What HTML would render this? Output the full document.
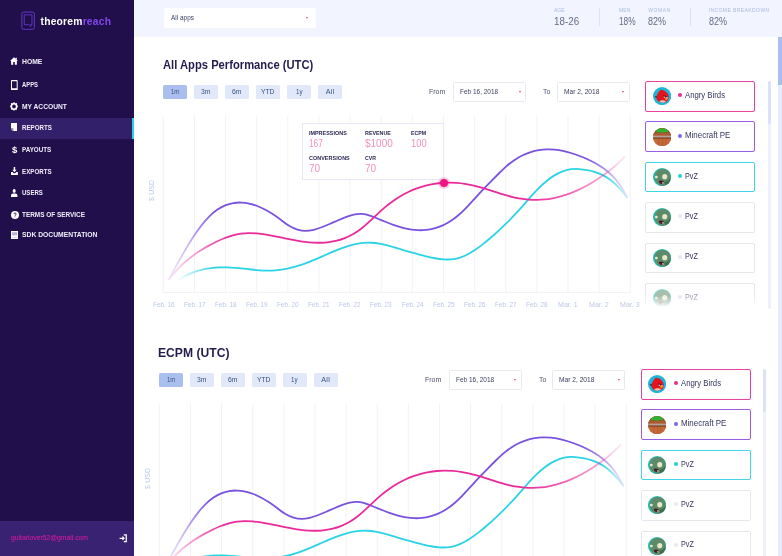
<!DOCTYPE html>
<html lang="en"><head><meta charset="utf-8"><title>TheoremReach Reports</title><style>
html,body{margin:0;padding:0;}
body{width:782px;height:556px;overflow:hidden;background:#fff;position:relative;font-family:"Liberation Sans",sans-serif;}
.abs{position:absolute;}
.t{position:absolute;white-space:pre;line-height:1;}
.sec{position:absolute;left:0;top:0;width:782px;height:556px;}
</style></head><body>
<div class="sec" style="left:0;top:0;"><svg class="abs" style="left:0;top:0" width="782" height="556" viewBox="0 0 782 556"><defs><linearGradient id="gp1" gradientUnits="userSpaceOnUse" x1="169.0" y1="0" x2="628.0" y2="0"><stop offset="0.0000" stop-color="#7a52e0" stop-opacity="0.08"/><stop offset="0.0458" stop-color="#7a52e0" stop-opacity="0.45"/><stop offset="0.0980" stop-color="#7a52e0" stop-opacity="1"/><stop offset="0.9085" stop-color="#7a52e0" stop-opacity="1"/><stop offset="0.9564" stop-color="#7a52e0" stop-opacity="0.55"/><stop offset="0.9978" stop-color="#7a52e0" stop-opacity="0.12"/></linearGradient><linearGradient id="gk1" gradientUnits="userSpaceOnUse" x1="169.0" y1="0" x2="628.0" y2="0"><stop offset="0.0000" stop-color="#ea2a9b" stop-opacity="0.08"/><stop offset="0.0566" stop-color="#ea2a9b" stop-opacity="0.45"/><stop offset="0.1242" stop-color="#ea2a9b" stop-opacity="1"/><stop offset="0.7756" stop-color="#ea2a9b" stop-opacity="1"/><stop offset="0.8627" stop-color="#ea2a9b" stop-opacity="0.75"/><stop offset="0.9390" stop-color="#ea2a9b" stop-opacity="0.45"/><stop offset="0.9935" stop-color="#ea2a9b" stop-opacity="0.1"/></linearGradient><linearGradient id="gc1" gradientUnits="userSpaceOnUse" x1="169.0" y1="0" x2="628.0" y2="0"><stop offset="0.0218" stop-color="#2bd3e6" stop-opacity="0.05"/><stop offset="0.0588" stop-color="#2bd3e6" stop-opacity="0.5"/><stop offset="0.0980" stop-color="#2bd3e6" stop-opacity="1"/><stop offset="0.9477" stop-color="#2bd3e6" stop-opacity="1"/><stop offset="0.9739" stop-color="#2bd3e6" stop-opacity="0.6"/><stop offset="1.0000" stop-color="#2bd3e6" stop-opacity="0.12"/></linearGradient></defs><rect x="162.80" y="115" width="1" height="177.5" fill="#f3f3f7"/><rect x="193.93" y="115" width="1" height="177.5" fill="#f3f3f7"/><rect x="225.06" y="115" width="1" height="177.5" fill="#f3f3f7"/><rect x="256.19" y="115" width="1" height="177.5" fill="#f3f3f7"/><rect x="287.32" y="115" width="1" height="177.5" fill="#f3f3f7"/><rect x="318.45" y="115" width="1" height="177.5" fill="#f3f3f7"/><rect x="349.58" y="115" width="1" height="177.5" fill="#f3f3f7"/><rect x="380.71" y="115" width="1" height="177.5" fill="#f3f3f7"/><rect x="411.84" y="115" width="1" height="177.5" fill="#f3f3f7"/><rect x="442.97" y="115" width="1" height="177.5" fill="#f3f3f7"/><rect x="474.10" y="115" width="1" height="177.5" fill="#f3f3f7"/><rect x="505.23" y="115" width="1" height="177.5" fill="#f3f3f7"/><rect x="536.36" y="115" width="1" height="177.5" fill="#f3f3f7"/><rect x="567.49" y="115" width="1" height="177.5" fill="#f3f3f7"/><rect x="598.62" y="115" width="1" height="177.5" fill="#f3f3f7"/><rect x="629.75" y="115" width="1" height="177.5" fill="#f3f3f7"/><rect x="163" y="292" width="468" height="1" fill="#f3f3f7"/><g fill="none" stroke-width="1.8" stroke-linecap="round"><path d="M179.40,279.20 C182.07,277.54 184.73,276.10 187.40,274.85 C190.06,273.60 192.73,272.53 195.39,271.64 C198.06,270.74 200.72,270.01 203.39,269.43 C206.05,268.85 208.72,268.41 211.39,268.09 C214.05,267.77 216.72,267.57 219.38,267.47 C222.05,267.37 224.71,267.37 227.38,267.45 C230.04,267.52 232.71,267.67 235.38,267.87 C238.04,268.07 240.71,268.32 243.37,268.60 C246.04,268.88 248.70,269.19 251.37,269.50 C254.03,269.80 256.70,270.09 259.36,270.31 C262.03,270.52 264.70,270.66 267.36,270.68 C270.03,270.69 272.69,270.58 275.36,270.35 C278.02,270.13 280.69,269.79 283.35,269.35 C286.02,268.90 288.68,268.35 291.35,267.70 C294.02,267.05 296.68,266.29 299.35,265.45 C302.01,264.60 304.68,263.67 307.34,262.64 C310.01,261.62 312.67,260.53 315.34,259.39 C318.00,258.26 320.67,257.08 323.34,255.91 C326.00,254.73 328.67,253.56 331.33,252.42 C334.00,251.28 336.66,250.18 339.33,249.15 C341.99,248.12 344.66,247.16 347.33,246.32 C349.99,245.48 352.66,244.75 355.32,244.17 C357.99,243.59 360.65,243.15 363.32,242.91 C365.98,242.67 368.65,242.62 371.31,242.77 C373.98,242.92 376.65,243.26 379.31,243.73 C381.98,244.20 384.64,244.80 387.31,245.47 C389.97,246.15 392.64,246.90 395.30,247.67 C397.97,248.45 400.63,249.23 403.30,250.02 C405.97,250.81 408.63,251.59 411.30,252.36 C413.96,253.13 416.63,253.87 419.29,254.58 C421.96,255.29 424.62,255.97 427.29,256.59 C429.95,257.21 432.62,257.78 435.29,258.26 C437.95,258.74 440.62,259.12 443.28,259.32 C445.95,259.53 448.61,259.55 451.28,259.33 C453.94,259.11 456.61,258.64 459.28,257.84 C461.94,257.04 464.61,255.93 467.27,254.57 C469.94,253.20 472.60,251.59 475.27,249.79 C477.93,247.99 480.60,246.00 483.26,243.88 C485.93,241.77 488.60,239.54 491.26,237.24 C493.93,234.94 496.59,232.57 499.26,230.11 C501.92,227.65 504.59,225.10 507.25,222.46 C509.92,219.82 512.58,217.08 515.25,214.23 C517.92,211.39 520.58,208.43 523.25,205.37 C525.91,202.32 528.58,199.21 531.24,196.19 C533.91,193.18 536.57,190.29 539.24,187.65 C541.90,185.01 544.57,182.60 547.24,180.46 C549.90,178.32 552.57,176.44 555.23,174.86 C557.90,173.28 560.56,171.99 563.23,171.03 C565.89,170.08 568.56,169.46 571.23,169.16 C573.89,168.86 576.56,168.85 579.22,169.03 C581.89,169.21 584.55,169.56 587.22,170.04 C589.88,170.52 592.55,171.17 595.21,172.04 C597.88,172.91 600.55,174.01 603.21,175.41 C605.88,176.81 608.54,178.51 611.21,180.58 C613.87,182.65 616.54,185.09 619.20,187.97 C621.87,190.85 624.53,194.17 627.20,198.00" stroke="url(#gc1)"/><path d="M168.90,279.20 C171.58,274.27 174.26,269.34 176.94,264.51 C179.62,259.68 182.30,254.94 184.98,250.38 C187.66,245.81 190.34,241.43 193.02,237.32 C195.70,233.21 198.38,229.37 201.06,225.89 C203.74,222.41 206.42,219.28 209.10,216.60 C211.78,213.92 214.46,211.68 217.14,209.83 C219.82,207.98 222.50,206.52 225.18,205.41 C227.86,204.30 230.54,203.53 233.22,203.07 C235.90,202.61 238.58,202.44 241.26,202.54 C243.94,202.63 246.62,202.98 249.30,203.57 C251.98,204.16 254.66,204.99 257.34,206.03 C260.02,207.06 262.70,208.31 265.38,209.73 C268.06,211.16 270.74,212.78 273.42,214.55 C276.10,216.32 278.78,218.26 281.46,220.31 C284.15,222.35 286.83,224.41 289.51,226.02 C292.19,227.63 294.87,228.86 297.55,229.70 C300.23,230.53 302.91,230.96 305.59,230.96 C308.27,230.95 310.95,230.53 313.63,229.86 C316.31,229.19 318.99,228.28 321.67,227.28 C324.35,226.27 327.03,225.15 329.71,223.99 C332.39,222.83 335.07,221.63 337.75,220.48 C340.43,219.32 343.11,218.20 345.79,217.20 C348.47,216.20 351.15,215.29 353.83,214.65 C356.51,214.01 359.19,213.69 361.87,213.91 C364.55,214.13 367.23,214.81 369.91,215.70 C372.59,216.59 375.27,217.66 377.95,218.74 C380.63,219.81 383.31,220.93 385.99,222.01 C388.67,223.09 391.35,224.14 394.03,225.09 C396.71,226.05 399.39,226.90 402.07,227.63 C404.75,228.35 407.43,228.94 410.11,229.37 C412.79,229.81 415.47,230.09 418.15,230.19 C420.83,230.29 423.51,230.21 426.19,229.93 C428.87,229.65 431.55,229.16 434.23,228.45 C436.91,227.74 439.59,226.80 442.27,225.61 C444.95,224.42 447.63,222.97 450.31,221.26 C452.99,219.54 455.67,217.55 458.35,215.25 C461.03,212.96 463.71,210.36 466.39,207.59 C469.07,204.83 471.75,201.89 474.43,198.93 C477.11,195.96 479.79,192.97 482.47,190.09 C485.15,187.20 487.83,184.47 490.51,181.79 C493.19,179.11 495.87,176.43 498.55,173.74 C501.23,171.04 503.91,168.40 506.59,166.07 C509.27,163.73 511.95,161.68 514.64,159.88 C517.32,158.08 520.00,156.55 522.68,155.24 C525.36,153.94 528.04,152.88 530.72,152.03 C533.40,151.18 536.08,150.55 538.76,150.12 C541.44,149.68 544.12,149.44 546.80,149.38 C549.48,149.32 552.16,149.43 554.84,149.69 C557.52,149.96 560.20,150.38 562.88,150.94 C565.56,151.50 568.24,152.19 570.92,152.99 C573.60,153.79 576.28,154.71 578.96,155.72 C581.64,156.73 584.32,157.83 587.00,159.02 C589.68,160.21 592.36,161.52 595.04,163.01 C597.72,164.50 600.40,166.17 603.08,168.10 C605.76,170.02 608.44,172.18 611.12,174.71 C613.80,177.24 616.48,180.17 619.16,183.81 C621.84,187.46 624.52,191.82 627.20,197.20" stroke="url(#gp1)"/><path d="M168.90,279.20 C171.57,275.75 174.23,272.64 176.90,269.80 C179.56,266.96 182.23,264.39 184.89,262.05 C187.56,259.71 190.22,257.59 192.89,255.65 C195.55,253.71 198.22,251.93 200.89,250.28 C203.55,248.63 206.22,247.09 208.88,245.63 C211.55,244.16 214.21,242.77 216.88,241.48 C219.54,240.19 222.21,239.01 224.88,237.97 C227.54,236.93 230.21,236.04 232.87,235.32 C235.54,234.60 238.20,234.07 240.87,233.73 C243.53,233.38 246.20,233.20 248.86,233.17 C251.53,233.14 254.20,233.24 256.86,233.46 C259.53,233.67 262.19,233.99 264.86,234.39 C267.52,234.79 270.19,235.26 272.85,235.78 C275.52,236.30 278.19,236.85 280.85,237.42 C283.52,237.99 286.18,238.57 288.85,239.12 C291.51,239.68 294.18,240.21 296.84,240.69 C299.51,241.17 302.17,241.59 304.84,241.92 C307.51,242.25 310.17,242.50 312.84,242.64 C315.50,242.78 318.17,242.81 320.83,242.73 C323.50,242.64 326.16,242.43 328.83,242.08 C331.50,241.73 334.16,241.24 336.83,240.59 C339.49,239.93 342.16,239.11 344.82,238.07 C347.49,237.04 350.15,235.80 352.82,234.31 C355.48,232.81 358.15,231.07 360.82,229.05 C363.48,227.02 366.15,224.68 368.81,222.19 C371.48,219.71 374.14,217.09 376.81,214.56 C379.47,212.02 382.14,209.58 384.81,207.35 C387.47,205.12 390.14,203.07 392.80,201.18 C395.47,199.30 398.13,197.58 400.80,196.01 C403.46,194.45 406.13,193.04 408.79,191.78 C411.46,190.51 414.13,189.39 416.79,188.41 C419.46,187.42 422.12,186.57 424.79,185.85 C427.45,185.13 430.12,184.53 432.78,184.06 C435.45,183.59 438.12,183.25 440.78,183.01 C443.45,182.78 446.11,182.67 448.78,182.66 C451.44,182.66 454.11,182.76 456.77,182.97 C459.44,183.17 462.10,183.48 464.77,183.89 C467.44,184.30 470.10,184.80 472.77,185.39 C475.43,185.99 478.10,186.68 480.76,187.43 C483.43,188.18 486.09,188.99 488.76,189.82 C491.43,190.66 494.09,191.52 496.76,192.36 C499.42,193.21 502.09,194.05 504.75,194.83 C507.42,195.62 510.08,196.36 512.75,197.01 C515.41,197.66 518.08,198.23 520.75,198.67 C523.41,199.12 526.08,199.44 528.74,199.65 C531.41,199.85 534.07,199.93 536.74,199.90 C539.40,199.86 542.07,199.71 544.74,199.43 C547.40,199.16 550.07,198.77 552.73,198.27 C555.40,197.77 558.06,197.15 560.73,196.42 C563.39,195.68 566.06,194.84 568.72,193.88 C571.39,192.92 574.06,191.85 576.72,190.68 C579.39,189.50 582.05,188.21 584.72,186.81 C587.38,185.42 590.05,183.91 592.71,182.29 C595.38,180.68 598.05,178.95 600.71,177.11 C603.38,175.27 606.04,173.32 608.71,171.25 C611.37,169.18 614.04,167.00 616.70,164.60 C619.37,162.21 622.03,159.61 624.70,156.70" stroke="url(#gk1)"/></g></svg><span class="t" style="left:163.00px;top:59px;font-size:12.60px;font-weight:700;color:#231c4e;transform:scaleX(0.8896);transform-origin:0 50%;">All Apps Performance (UTC)</span><div style="position:absolute;left:163.00px;top:84.80px;width:24.30px;height:13.80px;background:#aabfee;border-radius:1.5px;"></div><span class="t" style="left:171.05px;top:88px;font-size:7.20px;font-weight:400;color:#3b4f86;transform:scaleX(0.8197);transform-origin:0 50%;">1m</span><div style="position:absolute;left:194.00px;top:84.80px;width:24.30px;height:13.80px;background:#e0e8fa;border-radius:1.5px;"></div><span class="t" style="left:201.40px;top:88px;font-size:7.20px;font-weight:400;color:#3b4f86;transform:scaleX(0.9497);transform-origin:0 50%;">3m</span><div style="position:absolute;left:225.00px;top:84.80px;width:24.30px;height:13.80px;background:#e0e8fa;border-radius:1.5px;"></div><span class="t" style="left:232.40px;top:88px;font-size:7.20px;font-weight:400;color:#3b4f86;transform:scaleX(0.9497);transform-origin:0 50%;">6m</span><div style="position:absolute;left:256.00px;top:84.80px;width:24.30px;height:13.80px;background:#e0e8fa;border-radius:1.5px;"></div><span class="t" style="left:261.40px;top:88px;font-size:7.20px;font-weight:400;color:#3b4f86;transform:scaleX(0.9375);transform-origin:0 50%;">YTD</span><div style="position:absolute;left:287.00px;top:84.80px;width:24.30px;height:13.80px;background:#e0e8fa;border-radius:1.5px;"></div><span class="t" style="left:295.90px;top:88px;font-size:7.20px;font-weight:400;color:#3b4f86;transform:scaleX(0.8547);transform-origin:0 50%;">1y</span><div style="position:absolute;left:318.00px;top:84.80px;width:24.30px;height:13.80px;background:#e0e8fa;border-radius:1.5px;"></div><span class="t" style="left:325.65px;top:88px;font-size:7.20px;font-weight:400;color:#3b4f86;letter-spacing:0.333px;">All</span><span class="t" style="left:429.00px;top:88px;font-size:7.40px;font-weight:400;color:#50536f;transform:scaleX(0.9441);transform-origin:0 50%;">From</span><span class="t" style="left:543.00px;top:88px;font-size:7.40px;font-weight:400;color:#50536f;transform:scaleX(0.9468);transform-origin:0 50%;">To</span><div style="position:absolute;left:453.20px;top:82.40px;width:73.00px;height:19.20px;background:#fff;border:1px solid #e7e9f3;border-radius:1.5px;box-sizing:border-box;"></div><span class="t" style="left:460.20px;top:88px;font-size:7.40px;font-weight:400;color:#3d4062;transform:scaleX(0.8759);transform-origin:0 50%;">Feb 16, 2018</span><div class="abs" style="left:518.80px;top:91.0px;width:0;height:0;border-left:1.7px solid transparent;border-right:1.7px solid transparent;border-top:2.3px solid #dc4a84;"></div><div style="position:absolute;left:556.60px;top:82.40px;width:73.00px;height:19.20px;background:#fff;border:1px solid #e7e9f3;border-radius:1.5px;box-sizing:border-box;"></div><span class="t" style="left:563.60px;top:88px;font-size:7.40px;font-weight:400;color:#3d4062;transform:scaleX(0.8989);transform-origin:0 50%;">Mar 2, 2018</span><div class="abs" style="left:622.20px;top:91.0px;width:0;height:0;border-left:1.7px solid transparent;border-right:1.7px solid transparent;border-top:2.3px solid #dc4a84;"></div><div class="abs" style="left:152.60px;top:190.50px;width:0;height:0;"><span class="t" style="left:-10.5px;top:-3.6px;width:21px;font-size:6.8px;color:#b7c6ea;letter-spacing:0.2px;transform:rotate(-90deg);transform-origin:50% 50%;display:block;text-align:center;">$ USD</span></div><span class="t" style="left:152.50px;top:301px;font-size:7.50px;font-weight:400;color:#bcc8e8;transform:scaleX(0.8492);transform-origin:0 50%;">Feb. 16</span><span class="t" style="left:183.63px;top:301px;font-size:7.50px;font-weight:400;color:#bcc8e8;transform:scaleX(0.8492);transform-origin:0 50%;">Feb. 17</span><span class="t" style="left:214.76px;top:301px;font-size:7.50px;font-weight:400;color:#bcc8e8;transform:scaleX(0.8492);transform-origin:0 50%;">Feb. 18</span><span class="t" style="left:245.89px;top:301px;font-size:7.50px;font-weight:400;color:#bcc8e8;transform:scaleX(0.8492);transform-origin:0 50%;">Feb. 19</span><span class="t" style="left:277.02px;top:301px;font-size:7.50px;font-weight:400;color:#bcc8e8;transform:scaleX(0.8492);transform-origin:0 50%;">Feb. 20</span><span class="t" style="left:308.15px;top:301px;font-size:7.50px;font-weight:400;color:#bcc8e8;transform:scaleX(0.8492);transform-origin:0 50%;">Feb. 21</span><span class="t" style="left:339.28px;top:301px;font-size:7.50px;font-weight:400;color:#bcc8e8;transform:scaleX(0.8492);transform-origin:0 50%;">Feb. 22</span><span class="t" style="left:370.41px;top:301px;font-size:7.50px;font-weight:400;color:#bcc8e8;transform:scaleX(0.8492);transform-origin:0 50%;">Feb. 23</span><span class="t" style="left:401.54px;top:301px;font-size:7.50px;font-weight:400;color:#bcc8e8;transform:scaleX(0.8492);transform-origin:0 50%;">Feb. 24</span><span class="t" style="left:432.67px;top:301px;font-size:7.50px;font-weight:400;color:#bcc8e8;transform:scaleX(0.8492);transform-origin:0 50%;">Feb. 25</span><span class="t" style="left:463.80px;top:301px;font-size:7.50px;font-weight:400;color:#bcc8e8;transform:scaleX(0.8492);transform-origin:0 50%;">Feb. 26</span><span class="t" style="left:494.93px;top:301px;font-size:7.50px;font-weight:400;color:#bcc8e8;transform:scaleX(0.8492);transform-origin:0 50%;">Feb. 27</span><span class="t" style="left:526.06px;top:301px;font-size:7.50px;font-weight:400;color:#bcc8e8;transform:scaleX(0.8492);transform-origin:0 50%;">Feb. 28</span><span class="t" style="left:558.19px;top:301px;font-size:7.50px;font-weight:400;color:#bcc8e8;transform:scaleX(0.9404);transform-origin:0 50%;">Mar. 1</span><span class="t" style="left:589.32px;top:301px;font-size:7.50px;font-weight:400;color:#bcc8e8;transform:scaleX(0.9404);transform-origin:0 50%;">Mar. 2</span><span class="t" style="left:620.45px;top:301px;font-size:7.50px;font-weight:400;color:#bcc8e8;transform:scaleX(0.9404);transform-origin:0 50%;">Mar. 3</span><div style="position:absolute;left:302.40px;top:122.60px;width:141.20px;height:57.80px;background:#fff;border:1px solid #e6e8f3;box-sizing:border-box;"></div><span class="t" style="left:308.90px;top:131px;font-size:5.40px;font-weight:700;color:#2a2852;letter-spacing:0.045px;">IMPRESSIONS</span><span class="t" style="left:308.90px;top:139px;font-size:10.40px;font-weight:400;color:#f291bd;transform:scaleX(0.7952);transform-origin:0 50%;">167</span><span class="t" style="left:364.60px;top:131px;font-size:5.40px;font-weight:700;color:#2a2852;transform:scaleX(0.9959);transform-origin:0 50%;">REVENUE</span><span class="t" style="left:364.60px;top:139px;font-size:10.40px;font-weight:400;color:#f291bd;transform:scaleX(0.9613);transform-origin:0 50%;">$1000</span><span class="t" style="left:410.80px;top:131px;font-size:5.40px;font-weight:700;color:#2a2852;transform:scaleX(0.9743);transform-origin:0 50%;">ECPM</span><span class="t" style="left:410.80px;top:139px;font-size:10.40px;font-weight:400;color:#f291bd;transform:scaleX(0.8990);transform-origin:0 50%;">100</span><span class="t" style="left:308.90px;top:156px;font-size:5.40px;font-weight:700;color:#2a2852;letter-spacing:0.099px;">CONVERSIONS</span><span class="t" style="left:308.90px;top:164px;font-size:10.40px;font-weight:400;color:#f291bd;transform:scaleX(0.9681);transform-origin:0 50%;">70</span><span class="t" style="left:364.60px;top:156px;font-size:5.40px;font-weight:700;color:#2a2852;transform:scaleX(0.9648);transform-origin:0 50%;">CVR</span><span class="t" style="left:364.60px;top:164px;font-size:10.40px;font-weight:400;color:#f291bd;transform:scaleX(0.9681);transform-origin:0 50%;">70</span><div class="abs" style="left:438.00px;top:176.90px;width:12px;height:12px;border-radius:50%;background:rgba(242,20,130,0.2);"></div><div class="abs" style="left:440.00px;top:178.90px;width:8px;height:8px;border-radius:50%;background:#f0147f;"></div><div style="position:absolute;left:645.00px;top:81.10px;width:110.00px;height:30.60px;background:#fff;border:1.4px solid #e9409f;border-radius:2px;box-sizing:border-box;"></div><svg class="abs" style="left:652.70px;top:87.40px;opacity:1" width="18.20" height="18.20" viewBox="0 0 20 20"><defs><clipPath id="cab965_1"><circle cx="10" cy="10" r="10"/></clipPath></defs><g clip-path="url(#cab965_1)"><rect width="20" height="20" fill="#22b3d9"/><path d="M1.6 10.6 l2.6 -0.6 v2.4z" fill="#1b1b2a"/><path d="M8.6 3.1 C12.5 3 17.3 6.6 17.3 11.4 C17.3 15.3 14.4 17.2 10.6 17.2 C6.6 17.2 3.9 15.2 3.9 11.6 C3.9 8.2 6 5.6 8.6 3.1z" fill="#e3141f"/><path d="M6.8 15.6 Q10.5 13.6 14.4 15.6 Q12.6 17.3 10.6 17.2 Q8.4 17.3 6.8 15.6z" fill="#f0c9b2"/><path d="M13.4 11.8 L17.4 12.6 L13.8 14.8z" fill="#eba233"/><circle cx="15.5" cy="10.9" r="1.0" fill="#fff"/><circle cx="12.6" cy="11.0" r="0.9" fill="#fff"/><path d="M11.2 9.3 L16.8 10.4 L16.6 11.2 L11 10.3z" fill="#3a0d10"/></g></svg><div class="abs" style="left:678.00px;top:93.30px;width:4px;height:4px;border-radius:50%;background:#ea2a9b;"></div><span class="t" style="left:685.00px;top:90px;font-size:9.50px;font-weight:400;color:#34355f;transform:scaleX(0.8146);transform-origin:0 50%;">Angry Birds</span><div style="position:absolute;left:645.00px;top:121.45px;width:110.00px;height:30.60px;background:#fff;border:1.4px solid #9a5de0;border-radius:2px;box-sizing:border-box;"></div><svg class="abs" style="left:652.70px;top:127.75px;opacity:1" width="18.20" height="18.20" viewBox="0 0 20 20"><defs><clipPath id="cmc1368_1"><circle cx="10" cy="10" r="10"/></clipPath></defs><g clip-path="url(#cmc1368_1)"><rect width="20" height="20" fill="#b5582c"/><rect y="0" width="20" height="5.2" fill="#7d3f1d"/><path d="M2.8 5 Q3.6 0 10 0 Q16.4 0 17 5 Q13 4.2 10 5.2 Q6 4.4 2.800 5z" fill="#2eb430"/><rect y="5.200" width="20" height="3.300" fill="#ad5a30"/><rect y="8.400" width="20" height="2.300" fill="#b3a197"/><rect y="10.600" width="20" height="1.100" fill="#5c2c14"/><rect y="11.700" width="20" height="8.300" fill="#c66a3b"/><path d="M6.500 12v7 M10.500 12v8 M14 12v7" stroke="#a9522a" stroke-width="0.700" fill="none"/></g></svg><div class="abs" style="left:678.00px;top:133.65px;width:4px;height:4px;border-radius:50%;background:#7b67ea;"></div><span class="t" style="left:685.00px;top:130px;font-size:9.50px;font-weight:400;color:#34355f;transform:scaleX(0.8349);transform-origin:0 50%;">Minecraft PE</span><div style="position:absolute;left:645.00px;top:161.80px;width:110.00px;height:30.60px;background:#fff;border:1.4px solid #3fd6e6;border-radius:2px;box-sizing:border-box;"></div><svg class="abs" style="left:652.70px;top:168.10px;opacity:1" width="18.20" height="18.20" viewBox="0 0 20 20"><defs><clipPath id="cpvz1772_1"><circle cx="10" cy="10" r="10"/></clipPath></defs><g clip-path="url(#cpvz1772_1)"><rect width="20" height="20" fill="#25b8ae"/><path d="M2 9 Q2.500 1.200 10.500 1 Q19 1.200 19.300 9.500 Q19.500 17 14 19 Q9 20.500 5 17 Q1.800 14 2 9z" fill="#5f8a69"/><path d="M12 15 Q17 15 19 11 Q19.500 17 14 19z" fill="#3f6f4f"/><circle cx="12.900" cy="9.500" r="2.800" fill="#e6e8c6"/><circle cx="3.700" cy="10" r="1.600" fill="#e6e8c6"/><path d="M6.200 14.200 Q9 13 11.800 14.600 Q11.600 17.600 9 17.600 Q6.600 17.400 6.200 14.200z" fill="#4a1a24"/><rect x="10.200" y="15.600" width="1.300" height="1.400" fill="#f3efe2"/></g></svg><div class="abs" style="left:678.00px;top:174.00px;width:4px;height:4px;border-radius:50%;background:#22cfe0;"></div><span class="t" style="left:685.00px;top:171px;font-size:9.50px;font-weight:400;color:#34355f;transform:scaleX(0.7578);transform-origin:0 50%;">PvZ</span><div style="position:absolute;left:645.00px;top:202.15px;width:110.00px;height:30.60px;background:#fff;border:1px solid #e5e7ef;border-radius:2px;box-sizing:border-box;"></div><svg class="abs" style="left:652.70px;top:208.45px;opacity:1" width="18.20" height="18.20" viewBox="0 0 20 20"><defs><clipPath id="cpvz2175_1"><circle cx="10" cy="10" r="10"/></clipPath></defs><g clip-path="url(#cpvz2175_1)"><rect width="20" height="20" fill="#25b8ae"/><path d="M2 9 Q2.500 1.200 10.500 1 Q19 1.200 19.300 9.500 Q19.500 17 14 19 Q9 20.500 5 17 Q1.800 14 2 9z" fill="#5f8a69"/><path d="M12 15 Q17 15 19 11 Q19.500 17 14 19z" fill="#3f6f4f"/><circle cx="12.900" cy="9.500" r="2.800" fill="#e6e8c6"/><circle cx="3.700" cy="10" r="1.600" fill="#e6e8c6"/><path d="M6.200 14.200 Q9 13 11.800 14.600 Q11.600 17.600 9 17.600 Q6.600 17.400 6.200 14.200z" fill="#4a1a24"/><rect x="10.200" y="15.600" width="1.300" height="1.400" fill="#f3efe2"/></g></svg><div class="abs" style="left:678.00px;top:214.35px;width:4px;height:4px;border-radius:50%;background:#e8e8ef;"></div><span class="t" style="left:685.00px;top:211px;font-size:9.50px;font-weight:400;color:#34355f;transform:scaleX(0.7578);transform-origin:0 50%;">PvZ</span><div style="position:absolute;left:645.00px;top:242.50px;width:110.00px;height:30.60px;background:#fff;border:1px solid #e5e7ef;border-radius:2px;box-sizing:border-box;"></div><svg class="abs" style="left:652.70px;top:248.80px;opacity:1" width="18.20" height="18.20" viewBox="0 0 20 20"><defs><clipPath id="cpvz2579_1"><circle cx="10" cy="10" r="10"/></clipPath></defs><g clip-path="url(#cpvz2579_1)"><rect width="20" height="20" fill="#25b8ae"/><path d="M2 9 Q2.500 1.200 10.500 1 Q19 1.200 19.300 9.500 Q19.500 17 14 19 Q9 20.500 5 17 Q1.800 14 2 9z" fill="#5f8a69"/><path d="M12 15 Q17 15 19 11 Q19.500 17 14 19z" fill="#3f6f4f"/><circle cx="12.900" cy="9.500" r="2.800" fill="#e6e8c6"/><circle cx="3.700" cy="10" r="1.600" fill="#e6e8c6"/><path d="M6.200 14.200 Q9 13 11.800 14.600 Q11.600 17.600 9 17.600 Q6.600 17.400 6.200 14.200z" fill="#4a1a24"/><rect x="10.200" y="15.600" width="1.300" height="1.400" fill="#f3efe2"/></g></svg><div class="abs" style="left:678.00px;top:254.70px;width:4px;height:4px;border-radius:50%;background:#e8e8ef;"></div><span class="t" style="left:685.00px;top:251px;font-size:9.50px;font-weight:400;color:#34355f;transform:scaleX(0.7578);transform-origin:0 50%;">PvZ</span><div style="position:absolute;left:645.00px;top:282.85px;width:110.00px;height:30.60px;background:#fff;border:1px solid #e5e7ef;border-radius:2px;box-sizing:border-box;"></div><svg class="abs" style="left:652.70px;top:289.15px;opacity:0.55" width="18.20" height="18.20" viewBox="0 0 20 20"><defs><clipPath id="cpvz2982_1"><circle cx="10" cy="10" r="10"/></clipPath></defs><g clip-path="url(#cpvz2982_1)"><rect width="20" height="20" fill="#25b8ae"/><path d="M2 9 Q2.500 1.200 10.500 1 Q19 1.200 19.300 9.500 Q19.500 17 14 19 Q9 20.500 5 17 Q1.800 14 2 9z" fill="#5f8a69"/><path d="M12 15 Q17 15 19 11 Q19.500 17 14 19z" fill="#3f6f4f"/><circle cx="12.900" cy="9.500" r="2.800" fill="#e6e8c6"/><circle cx="3.700" cy="10" r="1.600" fill="#e6e8c6"/><path d="M6.200 14.200 Q9 13 11.800 14.600 Q11.600 17.600 9 17.600 Q6.600 17.400 6.200 14.200z" fill="#4a1a24"/><rect x="10.200" y="15.600" width="1.300" height="1.400" fill="#f3efe2"/></g></svg><div class="abs" style="left:678.00px;top:295.05px;width:4px;height:4px;border-radius:50%;background:#e8e8ef;"></div><span class="t" style="left:685.00px;top:292px;font-size:9.50px;font-weight:400;color:#9a9aae;transform:scaleX(0.7578);transform-origin:0 50%;">PvZ</span><div style="position:absolute;left:767.60px;top:80.60px;width:3.10px;height:228.00px;background:#eef1fc;border-radius:1.5px;"></div><div style="position:absolute;left:767.60px;top:80.60px;width:3.10px;height:43.00px;background:#dae2f7;border-radius:1.5px;"></div><div style="position:absolute;left:640.00px;top:296.00px;width:120.00px;height:14.00px;background:linear-gradient(to bottom, rgba(255,255,255,0), #fff 80%);"></div><div style="position:absolute;left:134.00px;top:310.00px;width:648.00px;height:30.00px;background:#fff;"></div></div>
<div class="sec" style="left:-4.5px;top:288px;"><svg class="abs" style="left:0;top:0" width="782" height="556" viewBox="0 0 782 556"><defs><linearGradient id="gp2" gradientUnits="userSpaceOnUse" x1="169.0" y1="0" x2="628.0" y2="0"><stop offset="0.0000" stop-color="#7a52e0" stop-opacity="0.08"/><stop offset="0.0458" stop-color="#7a52e0" stop-opacity="0.45"/><stop offset="0.0980" stop-color="#7a52e0" stop-opacity="1"/><stop offset="0.9085" stop-color="#7a52e0" stop-opacity="1"/><stop offset="0.9564" stop-color="#7a52e0" stop-opacity="0.55"/><stop offset="0.9978" stop-color="#7a52e0" stop-opacity="0.12"/></linearGradient><linearGradient id="gk2" gradientUnits="userSpaceOnUse" x1="169.0" y1="0" x2="628.0" y2="0"><stop offset="0.0000" stop-color="#ea2a9b" stop-opacity="0.08"/><stop offset="0.0566" stop-color="#ea2a9b" stop-opacity="0.45"/><stop offset="0.1242" stop-color="#ea2a9b" stop-opacity="1"/><stop offset="0.7756" stop-color="#ea2a9b" stop-opacity="1"/><stop offset="0.8627" stop-color="#ea2a9b" stop-opacity="0.75"/><stop offset="0.9390" stop-color="#ea2a9b" stop-opacity="0.45"/><stop offset="0.9935" stop-color="#ea2a9b" stop-opacity="0.1"/></linearGradient><linearGradient id="gc2" gradientUnits="userSpaceOnUse" x1="169.0" y1="0" x2="628.0" y2="0"><stop offset="0.0218" stop-color="#2bd3e6" stop-opacity="0.05"/><stop offset="0.0588" stop-color="#2bd3e6" stop-opacity="0.5"/><stop offset="0.0980" stop-color="#2bd3e6" stop-opacity="1"/><stop offset="0.9477" stop-color="#2bd3e6" stop-opacity="1"/><stop offset="0.9739" stop-color="#2bd3e6" stop-opacity="0.6"/><stop offset="1.0000" stop-color="#2bd3e6" stop-opacity="0.12"/></linearGradient></defs><rect x="162.80" y="115" width="1" height="177.5" fill="#f3f3f7"/><rect x="193.93" y="115" width="1" height="177.5" fill="#f3f3f7"/><rect x="225.06" y="115" width="1" height="177.5" fill="#f3f3f7"/><rect x="256.19" y="115" width="1" height="177.5" fill="#f3f3f7"/><rect x="287.32" y="115" width="1" height="177.5" fill="#f3f3f7"/><rect x="318.45" y="115" width="1" height="177.5" fill="#f3f3f7"/><rect x="349.58" y="115" width="1" height="177.5" fill="#f3f3f7"/><rect x="380.71" y="115" width="1" height="177.5" fill="#f3f3f7"/><rect x="411.84" y="115" width="1" height="177.5" fill="#f3f3f7"/><rect x="442.97" y="115" width="1" height="177.5" fill="#f3f3f7"/><rect x="474.10" y="115" width="1" height="177.5" fill="#f3f3f7"/><rect x="505.23" y="115" width="1" height="177.5" fill="#f3f3f7"/><rect x="536.36" y="115" width="1" height="177.5" fill="#f3f3f7"/><rect x="567.49" y="115" width="1" height="177.5" fill="#f3f3f7"/><rect x="598.62" y="115" width="1" height="177.5" fill="#f3f3f7"/><rect x="629.75" y="115" width="1" height="177.5" fill="#f3f3f7"/><rect x="163" y="292" width="468" height="1" fill="#f3f3f7"/><g fill="none" stroke-width="1.8" stroke-linecap="round"><path d="M179.40,279.20 C182.07,277.54 184.73,276.10 187.40,274.85 C190.06,273.60 192.73,272.53 195.39,271.64 C198.06,270.74 200.72,270.01 203.39,269.43 C206.05,268.85 208.72,268.41 211.39,268.09 C214.05,267.77 216.72,267.57 219.38,267.47 C222.05,267.37 224.71,267.37 227.38,267.45 C230.04,267.52 232.71,267.67 235.38,267.87 C238.04,268.07 240.71,268.32 243.37,268.60 C246.04,268.88 248.70,269.19 251.37,269.50 C254.03,269.80 256.70,270.09 259.36,270.31 C262.03,270.52 264.70,270.66 267.36,270.68 C270.03,270.69 272.69,270.58 275.36,270.35 C278.02,270.13 280.69,269.79 283.35,269.35 C286.02,268.90 288.68,268.35 291.35,267.70 C294.02,267.05 296.68,266.29 299.35,265.45 C302.01,264.60 304.68,263.67 307.34,262.64 C310.01,261.62 312.67,260.53 315.34,259.39 C318.00,258.26 320.67,257.08 323.34,255.91 C326.00,254.73 328.67,253.56 331.33,252.42 C334.00,251.28 336.66,250.18 339.33,249.15 C341.99,248.12 344.66,247.16 347.33,246.32 C349.99,245.48 352.66,244.75 355.32,244.17 C357.99,243.59 360.65,243.15 363.32,242.91 C365.98,242.67 368.65,242.62 371.31,242.77 C373.98,242.92 376.65,243.26 379.31,243.73 C381.98,244.20 384.64,244.80 387.31,245.47 C389.97,246.15 392.64,246.90 395.30,247.67 C397.97,248.45 400.63,249.23 403.30,250.02 C405.97,250.81 408.63,251.59 411.30,252.36 C413.96,253.13 416.63,253.87 419.29,254.58 C421.96,255.29 424.62,255.97 427.29,256.59 C429.95,257.21 432.62,257.78 435.29,258.26 C437.95,258.74 440.62,259.12 443.28,259.32 C445.95,259.53 448.61,259.55 451.28,259.33 C453.94,259.11 456.61,258.64 459.28,257.84 C461.94,257.04 464.61,255.93 467.27,254.57 C469.94,253.20 472.60,251.59 475.27,249.79 C477.93,247.99 480.60,246.00 483.26,243.88 C485.93,241.77 488.60,239.54 491.26,237.24 C493.93,234.94 496.59,232.57 499.26,230.11 C501.92,227.65 504.59,225.10 507.25,222.46 C509.92,219.82 512.58,217.08 515.25,214.23 C517.92,211.39 520.58,208.43 523.25,205.37 C525.91,202.32 528.58,199.21 531.24,196.19 C533.91,193.18 536.57,190.29 539.24,187.65 C541.90,185.01 544.57,182.60 547.24,180.46 C549.90,178.32 552.57,176.44 555.23,174.86 C557.90,173.28 560.56,171.99 563.23,171.03 C565.89,170.08 568.56,169.46 571.23,169.16 C573.89,168.86 576.56,168.85 579.22,169.03 C581.89,169.21 584.55,169.56 587.22,170.04 C589.88,170.52 592.55,171.17 595.21,172.04 C597.88,172.91 600.55,174.01 603.21,175.41 C605.88,176.81 608.54,178.51 611.21,180.58 C613.87,182.65 616.54,185.09 619.20,187.97 C621.87,190.85 624.53,194.17 627.20,198.00" stroke="url(#gc2)"/><path d="M168.90,279.20 C171.58,274.27 174.26,269.34 176.94,264.51 C179.62,259.68 182.30,254.94 184.98,250.38 C187.66,245.81 190.34,241.43 193.02,237.32 C195.70,233.21 198.38,229.37 201.06,225.89 C203.74,222.41 206.42,219.28 209.10,216.60 C211.78,213.92 214.46,211.68 217.14,209.83 C219.82,207.98 222.50,206.52 225.18,205.41 C227.86,204.30 230.54,203.53 233.22,203.07 C235.90,202.61 238.58,202.44 241.26,202.54 C243.94,202.63 246.62,202.98 249.30,203.57 C251.98,204.16 254.66,204.99 257.34,206.03 C260.02,207.06 262.70,208.31 265.38,209.73 C268.06,211.16 270.74,212.78 273.42,214.55 C276.10,216.32 278.78,218.26 281.46,220.31 C284.15,222.35 286.83,224.41 289.51,226.02 C292.19,227.63 294.87,228.86 297.55,229.70 C300.23,230.53 302.91,230.96 305.59,230.96 C308.27,230.95 310.95,230.53 313.63,229.86 C316.31,229.19 318.99,228.28 321.67,227.28 C324.35,226.27 327.03,225.15 329.71,223.99 C332.39,222.83 335.07,221.63 337.75,220.48 C340.43,219.32 343.11,218.20 345.79,217.20 C348.47,216.20 351.15,215.29 353.83,214.65 C356.51,214.01 359.19,213.69 361.87,213.91 C364.55,214.13 367.23,214.81 369.91,215.70 C372.59,216.59 375.27,217.66 377.95,218.74 C380.63,219.81 383.31,220.93 385.99,222.01 C388.67,223.09 391.35,224.14 394.03,225.09 C396.71,226.05 399.39,226.90 402.07,227.63 C404.75,228.35 407.43,228.94 410.11,229.37 C412.79,229.81 415.47,230.09 418.15,230.19 C420.83,230.29 423.51,230.21 426.19,229.93 C428.87,229.65 431.55,229.16 434.23,228.45 C436.91,227.74 439.59,226.80 442.27,225.61 C444.95,224.42 447.63,222.97 450.31,221.26 C452.99,219.54 455.67,217.55 458.35,215.25 C461.03,212.96 463.71,210.36 466.39,207.59 C469.07,204.83 471.75,201.89 474.43,198.93 C477.11,195.96 479.79,192.97 482.47,190.09 C485.15,187.20 487.83,184.47 490.51,181.79 C493.19,179.11 495.87,176.43 498.55,173.74 C501.23,171.04 503.91,168.40 506.59,166.07 C509.27,163.73 511.95,161.68 514.64,159.88 C517.32,158.08 520.00,156.55 522.68,155.24 C525.36,153.94 528.04,152.88 530.72,152.03 C533.40,151.18 536.08,150.55 538.76,150.12 C541.44,149.68 544.12,149.44 546.80,149.38 C549.48,149.32 552.16,149.43 554.84,149.69 C557.52,149.96 560.20,150.38 562.88,150.94 C565.56,151.50 568.24,152.19 570.92,152.99 C573.60,153.79 576.28,154.71 578.96,155.72 C581.64,156.73 584.32,157.83 587.00,159.02 C589.68,160.21 592.36,161.52 595.04,163.01 C597.72,164.50 600.40,166.17 603.08,168.10 C605.76,170.02 608.44,172.18 611.12,174.71 C613.80,177.24 616.48,180.17 619.16,183.81 C621.84,187.46 624.52,191.82 627.20,197.20" stroke="url(#gp2)"/><path d="M168.90,279.20 C171.57,275.75 174.23,272.64 176.90,269.80 C179.56,266.96 182.23,264.39 184.89,262.05 C187.56,259.71 190.22,257.59 192.89,255.65 C195.55,253.71 198.22,251.93 200.89,250.28 C203.55,248.63 206.22,247.09 208.88,245.63 C211.55,244.16 214.21,242.77 216.88,241.48 C219.54,240.19 222.21,239.01 224.88,237.97 C227.54,236.93 230.21,236.04 232.87,235.32 C235.54,234.60 238.20,234.07 240.87,233.73 C243.53,233.38 246.20,233.20 248.86,233.17 C251.53,233.14 254.20,233.24 256.86,233.46 C259.53,233.67 262.19,233.99 264.86,234.39 C267.52,234.79 270.19,235.26 272.85,235.78 C275.52,236.30 278.19,236.85 280.85,237.42 C283.52,237.99 286.18,238.57 288.85,239.12 C291.51,239.68 294.18,240.21 296.84,240.69 C299.51,241.17 302.17,241.59 304.84,241.92 C307.51,242.25 310.17,242.50 312.84,242.64 C315.50,242.78 318.17,242.81 320.83,242.73 C323.50,242.64 326.16,242.43 328.83,242.08 C331.50,241.73 334.16,241.24 336.83,240.59 C339.49,239.93 342.16,239.11 344.82,238.07 C347.49,237.04 350.15,235.80 352.82,234.31 C355.48,232.81 358.15,231.07 360.82,229.05 C363.48,227.02 366.15,224.68 368.81,222.19 C371.48,219.71 374.14,217.09 376.81,214.56 C379.47,212.02 382.14,209.58 384.81,207.35 C387.47,205.12 390.14,203.07 392.80,201.18 C395.47,199.30 398.13,197.58 400.80,196.01 C403.46,194.45 406.13,193.04 408.79,191.78 C411.46,190.51 414.13,189.39 416.79,188.41 C419.46,187.42 422.12,186.57 424.79,185.85 C427.45,185.13 430.12,184.53 432.78,184.06 C435.45,183.59 438.12,183.25 440.78,183.01 C443.45,182.78 446.11,182.67 448.78,182.66 C451.44,182.66 454.11,182.76 456.77,182.97 C459.44,183.17 462.10,183.48 464.77,183.89 C467.44,184.30 470.10,184.80 472.77,185.39 C475.43,185.99 478.10,186.68 480.76,187.43 C483.43,188.18 486.09,188.99 488.76,189.82 C491.43,190.66 494.09,191.52 496.76,192.36 C499.42,193.21 502.09,194.05 504.75,194.83 C507.42,195.62 510.08,196.36 512.75,197.01 C515.41,197.66 518.08,198.23 520.75,198.67 C523.41,199.12 526.08,199.44 528.74,199.65 C531.41,199.85 534.07,199.93 536.74,199.90 C539.40,199.86 542.07,199.71 544.74,199.43 C547.40,199.16 550.07,198.77 552.73,198.27 C555.40,197.77 558.06,197.15 560.73,196.42 C563.39,195.68 566.06,194.84 568.72,193.88 C571.39,192.92 574.06,191.85 576.72,190.68 C579.39,189.50 582.05,188.21 584.72,186.81 C587.38,185.42 590.05,183.91 592.71,182.29 C595.38,180.68 598.05,178.95 600.71,177.11 C603.38,175.27 606.04,173.32 608.71,171.25 C611.37,169.18 614.04,167.00 616.70,164.60 C619.37,162.21 622.03,159.61 624.70,156.70" stroke="url(#gk2)"/></g></svg><span class="t" style="left:162.40px;top:59px;font-size:12.60px;font-weight:700;color:#231c4e;transform:scaleX(0.9637);transform-origin:0 50%;">ECPM (UTC)</span><div style="position:absolute;left:163.00px;top:84.80px;width:24.30px;height:13.80px;background:#aabfee;border-radius:1.5px;"></div><span class="t" style="left:171.05px;top:88px;font-size:7.20px;font-weight:400;color:#3b4f86;transform:scaleX(0.8197);transform-origin:0 50%;">1m</span><div style="position:absolute;left:194.00px;top:84.80px;width:24.30px;height:13.80px;background:#e0e8fa;border-radius:1.5px;"></div><span class="t" style="left:201.40px;top:88px;font-size:7.20px;font-weight:400;color:#3b4f86;transform:scaleX(0.9497);transform-origin:0 50%;">3m</span><div style="position:absolute;left:225.00px;top:84.80px;width:24.30px;height:13.80px;background:#e0e8fa;border-radius:1.5px;"></div><span class="t" style="left:232.40px;top:88px;font-size:7.20px;font-weight:400;color:#3b4f86;transform:scaleX(0.9497);transform-origin:0 50%;">6m</span><div style="position:absolute;left:256.00px;top:84.80px;width:24.30px;height:13.80px;background:#e0e8fa;border-radius:1.5px;"></div><span class="t" style="left:261.40px;top:88px;font-size:7.20px;font-weight:400;color:#3b4f86;transform:scaleX(0.9375);transform-origin:0 50%;">YTD</span><div style="position:absolute;left:287.00px;top:84.80px;width:24.30px;height:13.80px;background:#e0e8fa;border-radius:1.5px;"></div><span class="t" style="left:295.90px;top:88px;font-size:7.20px;font-weight:400;color:#3b4f86;transform:scaleX(0.8547);transform-origin:0 50%;">1y</span><div style="position:absolute;left:318.00px;top:84.80px;width:24.30px;height:13.80px;background:#e0e8fa;border-radius:1.5px;"></div><span class="t" style="left:325.65px;top:88px;font-size:7.20px;font-weight:400;color:#3b4f86;letter-spacing:0.333px;">All</span><span class="t" style="left:429.00px;top:88px;font-size:7.40px;font-weight:400;color:#50536f;transform:scaleX(0.9441);transform-origin:0 50%;">From</span><span class="t" style="left:543.00px;top:88px;font-size:7.40px;font-weight:400;color:#50536f;transform:scaleX(0.9468);transform-origin:0 50%;">To</span><div style="position:absolute;left:453.20px;top:82.40px;width:73.00px;height:19.20px;background:#fff;border:1px solid #e7e9f3;border-radius:1.5px;box-sizing:border-box;"></div><span class="t" style="left:460.20px;top:88px;font-size:7.40px;font-weight:400;color:#3d4062;transform:scaleX(0.8759);transform-origin:0 50%;">Feb 16, 2018</span><div class="abs" style="left:518.80px;top:91.0px;width:0;height:0;border-left:1.7px solid transparent;border-right:1.7px solid transparent;border-top:2.3px solid #dc4a84;"></div><div style="position:absolute;left:556.60px;top:82.40px;width:73.00px;height:19.20px;background:#fff;border:1px solid #e7e9f3;border-radius:1.5px;box-sizing:border-box;"></div><span class="t" style="left:563.60px;top:88px;font-size:7.40px;font-weight:400;color:#3d4062;transform:scaleX(0.8989);transform-origin:0 50%;">Mar 2, 2018</span><div class="abs" style="left:622.20px;top:91.0px;width:0;height:0;border-left:1.7px solid transparent;border-right:1.7px solid transparent;border-top:2.3px solid #dc4a84;"></div><div class="abs" style="left:152.60px;top:190.50px;width:0;height:0;"><span class="t" style="left:-10.5px;top:-3.6px;width:21px;font-size:6.8px;color:#b7c6ea;letter-spacing:0.2px;transform:rotate(-90deg);transform-origin:50% 50%;display:block;text-align:center;">$ USD</span></div><span class="t" style="left:152.50px;top:301px;font-size:7.50px;font-weight:400;color:#bcc8e8;transform:scaleX(0.8492);transform-origin:0 50%;">Feb. 16</span><span class="t" style="left:183.63px;top:301px;font-size:7.50px;font-weight:400;color:#bcc8e8;transform:scaleX(0.8492);transform-origin:0 50%;">Feb. 17</span><span class="t" style="left:214.76px;top:301px;font-size:7.50px;font-weight:400;color:#bcc8e8;transform:scaleX(0.8492);transform-origin:0 50%;">Feb. 18</span><span class="t" style="left:245.89px;top:301px;font-size:7.50px;font-weight:400;color:#bcc8e8;transform:scaleX(0.8492);transform-origin:0 50%;">Feb. 19</span><span class="t" style="left:277.02px;top:301px;font-size:7.50px;font-weight:400;color:#bcc8e8;transform:scaleX(0.8492);transform-origin:0 50%;">Feb. 20</span><span class="t" style="left:308.15px;top:301px;font-size:7.50px;font-weight:400;color:#bcc8e8;transform:scaleX(0.8492);transform-origin:0 50%;">Feb. 21</span><span class="t" style="left:339.28px;top:301px;font-size:7.50px;font-weight:400;color:#bcc8e8;transform:scaleX(0.8492);transform-origin:0 50%;">Feb. 22</span><span class="t" style="left:370.41px;top:301px;font-size:7.50px;font-weight:400;color:#bcc8e8;transform:scaleX(0.8492);transform-origin:0 50%;">Feb. 23</span><span class="t" style="left:401.54px;top:301px;font-size:7.50px;font-weight:400;color:#bcc8e8;transform:scaleX(0.8492);transform-origin:0 50%;">Feb. 24</span><span class="t" style="left:432.67px;top:301px;font-size:7.50px;font-weight:400;color:#bcc8e8;transform:scaleX(0.8492);transform-origin:0 50%;">Feb. 25</span><span class="t" style="left:463.80px;top:301px;font-size:7.50px;font-weight:400;color:#bcc8e8;transform:scaleX(0.8492);transform-origin:0 50%;">Feb. 26</span><span class="t" style="left:494.93px;top:301px;font-size:7.50px;font-weight:400;color:#bcc8e8;transform:scaleX(0.8492);transform-origin:0 50%;">Feb. 27</span><span class="t" style="left:526.06px;top:301px;font-size:7.50px;font-weight:400;color:#bcc8e8;transform:scaleX(0.8492);transform-origin:0 50%;">Feb. 28</span><span class="t" style="left:558.19px;top:301px;font-size:7.50px;font-weight:400;color:#bcc8e8;transform:scaleX(0.9404);transform-origin:0 50%;">Mar. 1</span><span class="t" style="left:589.32px;top:301px;font-size:7.50px;font-weight:400;color:#bcc8e8;transform:scaleX(0.9404);transform-origin:0 50%;">Mar. 2</span><span class="t" style="left:620.45px;top:301px;font-size:7.50px;font-weight:400;color:#bcc8e8;transform:scaleX(0.9404);transform-origin:0 50%;">Mar. 3</span><div style="position:absolute;left:645.00px;top:81.10px;width:110.00px;height:30.60px;background:#fff;border:1.4px solid #e9409f;border-radius:2px;box-sizing:border-box;"></div><svg class="abs" style="left:652.70px;top:87.40px;opacity:1" width="18.20" height="18.20" viewBox="0 0 20 20"><defs><clipPath id="cab965_2"><circle cx="10" cy="10" r="10"/></clipPath></defs><g clip-path="url(#cab965_2)"><rect width="20" height="20" fill="#22b3d9"/><path d="M1.6 10.6 l2.6 -0.6 v2.4z" fill="#1b1b2a"/><path d="M8.6 3.1 C12.5 3 17.3 6.6 17.3 11.4 C17.3 15.3 14.4 17.2 10.6 17.2 C6.6 17.2 3.9 15.2 3.9 11.6 C3.9 8.2 6 5.6 8.6 3.1z" fill="#e3141f"/><path d="M6.8 15.6 Q10.5 13.6 14.4 15.6 Q12.6 17.3 10.6 17.2 Q8.4 17.3 6.8 15.6z" fill="#f0c9b2"/><path d="M13.4 11.8 L17.4 12.6 L13.8 14.8z" fill="#eba233"/><circle cx="15.5" cy="10.9" r="1.0" fill="#fff"/><circle cx="12.6" cy="11.0" r="0.9" fill="#fff"/><path d="M11.2 9.3 L16.8 10.4 L16.6 11.2 L11 10.3z" fill="#3a0d10"/></g></svg><div class="abs" style="left:678.00px;top:93.30px;width:4px;height:4px;border-radius:50%;background:#ea2a9b;"></div><span class="t" style="left:685.00px;top:90px;font-size:9.50px;font-weight:400;color:#34355f;transform:scaleX(0.8146);transform-origin:0 50%;">Angry Birds</span><div style="position:absolute;left:645.00px;top:121.45px;width:110.00px;height:30.60px;background:#fff;border:1.4px solid #9a5de0;border-radius:2px;box-sizing:border-box;"></div><svg class="abs" style="left:652.70px;top:127.75px;opacity:1" width="18.20" height="18.20" viewBox="0 0 20 20"><defs><clipPath id="cmc1368_2"><circle cx="10" cy="10" r="10"/></clipPath></defs><g clip-path="url(#cmc1368_2)"><rect width="20" height="20" fill="#b5582c"/><rect y="0" width="20" height="5.2" fill="#7d3f1d"/><path d="M2.8 5 Q3.6 0 10 0 Q16.4 0 17 5 Q13 4.2 10 5.2 Q6 4.4 2.800 5z" fill="#2eb430"/><rect y="5.200" width="20" height="3.300" fill="#ad5a30"/><rect y="8.400" width="20" height="2.300" fill="#b3a197"/><rect y="10.600" width="20" height="1.100" fill="#5c2c14"/><rect y="11.700" width="20" height="8.300" fill="#c66a3b"/><path d="M6.500 12v7 M10.500 12v8 M14 12v7" stroke="#a9522a" stroke-width="0.700" fill="none"/></g></svg><div class="abs" style="left:678.00px;top:133.65px;width:4px;height:4px;border-radius:50%;background:#7b67ea;"></div><span class="t" style="left:685.00px;top:130px;font-size:9.50px;font-weight:400;color:#34355f;transform:scaleX(0.8349);transform-origin:0 50%;">Minecraft PE</span><div style="position:absolute;left:645.00px;top:161.80px;width:110.00px;height:30.60px;background:#fff;border:1.4px solid #3fd6e6;border-radius:2px;box-sizing:border-box;"></div><svg class="abs" style="left:652.70px;top:168.10px;opacity:1" width="18.20" height="18.20" viewBox="0 0 20 20"><defs><clipPath id="cpvz1772_2"><circle cx="10" cy="10" r="10"/></clipPath></defs><g clip-path="url(#cpvz1772_2)"><rect width="20" height="20" fill="#25b8ae"/><path d="M2 9 Q2.500 1.200 10.500 1 Q19 1.200 19.300 9.500 Q19.500 17 14 19 Q9 20.500 5 17 Q1.800 14 2 9z" fill="#5f8a69"/><path d="M12 15 Q17 15 19 11 Q19.500 17 14 19z" fill="#3f6f4f"/><circle cx="12.900" cy="9.500" r="2.800" fill="#e6e8c6"/><circle cx="3.700" cy="10" r="1.600" fill="#e6e8c6"/><path d="M6.200 14.200 Q9 13 11.800 14.600 Q11.600 17.600 9 17.600 Q6.600 17.400 6.200 14.200z" fill="#4a1a24"/><rect x="10.200" y="15.600" width="1.300" height="1.400" fill="#f3efe2"/></g></svg><div class="abs" style="left:678.00px;top:174.00px;width:4px;height:4px;border-radius:50%;background:#22cfe0;"></div><span class="t" style="left:685.00px;top:171px;font-size:9.50px;font-weight:400;color:#34355f;transform:scaleX(0.7578);transform-origin:0 50%;">PvZ</span><div style="position:absolute;left:645.00px;top:202.15px;width:110.00px;height:30.60px;background:#fff;border:1px solid #e5e7ef;border-radius:2px;box-sizing:border-box;"></div><svg class="abs" style="left:652.70px;top:208.45px;opacity:1" width="18.20" height="18.20" viewBox="0 0 20 20"><defs><clipPath id="cpvz2175_2"><circle cx="10" cy="10" r="10"/></clipPath></defs><g clip-path="url(#cpvz2175_2)"><rect width="20" height="20" fill="#25b8ae"/><path d="M2 9 Q2.500 1.200 10.500 1 Q19 1.200 19.300 9.500 Q19.500 17 14 19 Q9 20.500 5 17 Q1.800 14 2 9z" fill="#5f8a69"/><path d="M12 15 Q17 15 19 11 Q19.500 17 14 19z" fill="#3f6f4f"/><circle cx="12.900" cy="9.500" r="2.800" fill="#e6e8c6"/><circle cx="3.700" cy="10" r="1.600" fill="#e6e8c6"/><path d="M6.200 14.200 Q9 13 11.800 14.600 Q11.600 17.600 9 17.600 Q6.600 17.400 6.200 14.200z" fill="#4a1a24"/><rect x="10.200" y="15.600" width="1.300" height="1.400" fill="#f3efe2"/></g></svg><div class="abs" style="left:678.00px;top:214.35px;width:4px;height:4px;border-radius:50%;background:#e8e8ef;"></div><span class="t" style="left:685.00px;top:211px;font-size:9.50px;font-weight:400;color:#34355f;transform:scaleX(0.7578);transform-origin:0 50%;">PvZ</span><div style="position:absolute;left:645.00px;top:242.50px;width:110.00px;height:30.60px;background:#fff;border:1px solid #e5e7ef;border-radius:2px;box-sizing:border-box;"></div><svg class="abs" style="left:652.70px;top:248.80px;opacity:1" width="18.20" height="18.20" viewBox="0 0 20 20"><defs><clipPath id="cpvz2579_2"><circle cx="10" cy="10" r="10"/></clipPath></defs><g clip-path="url(#cpvz2579_2)"><rect width="20" height="20" fill="#25b8ae"/><path d="M2 9 Q2.500 1.200 10.500 1 Q19 1.200 19.300 9.500 Q19.500 17 14 19 Q9 20.500 5 17 Q1.800 14 2 9z" fill="#5f8a69"/><path d="M12 15 Q17 15 19 11 Q19.500 17 14 19z" fill="#3f6f4f"/><circle cx="12.900" cy="9.500" r="2.800" fill="#e6e8c6"/><circle cx="3.700" cy="10" r="1.600" fill="#e6e8c6"/><path d="M6.200 14.200 Q9 13 11.800 14.600 Q11.600 17.600 9 17.600 Q6.600 17.400 6.200 14.200z" fill="#4a1a24"/><rect x="10.200" y="15.600" width="1.300" height="1.400" fill="#f3efe2"/></g></svg><div class="abs" style="left:678.00px;top:254.70px;width:4px;height:4px;border-radius:50%;background:#e8e8ef;"></div><span class="t" style="left:685.00px;top:251px;font-size:9.50px;font-weight:400;color:#34355f;transform:scaleX(0.7578);transform-origin:0 50%;">PvZ</span><div style="position:absolute;left:645.00px;top:282.85px;width:110.00px;height:30.60px;background:#fff;border:1px solid #e5e7ef;border-radius:2px;box-sizing:border-box;"></div><svg class="abs" style="left:652.70px;top:289.15px;opacity:0.55" width="18.20" height="18.20" viewBox="0 0 20 20"><defs><clipPath id="cpvz2982_2"><circle cx="10" cy="10" r="10"/></clipPath></defs><g clip-path="url(#cpvz2982_2)"><rect width="20" height="20" fill="#25b8ae"/><path d="M2 9 Q2.500 1.200 10.500 1 Q19 1.200 19.300 9.500 Q19.500 17 14 19 Q9 20.500 5 17 Q1.800 14 2 9z" fill="#5f8a69"/><path d="M12 15 Q17 15 19 11 Q19.500 17 14 19z" fill="#3f6f4f"/><circle cx="12.900" cy="9.500" r="2.800" fill="#e6e8c6"/><circle cx="3.700" cy="10" r="1.600" fill="#e6e8c6"/><path d="M6.200 14.200 Q9 13 11.800 14.600 Q11.600 17.600 9 17.600 Q6.600 17.400 6.200 14.200z" fill="#4a1a24"/><rect x="10.200" y="15.600" width="1.300" height="1.400" fill="#f3efe2"/></g></svg><div class="abs" style="left:678.00px;top:295.05px;width:4px;height:4px;border-radius:50%;background:#e8e8ef;"></div><span class="t" style="left:685.00px;top:292px;font-size:9.50px;font-weight:400;color:#9a9aae;transform:scaleX(0.7578);transform-origin:0 50%;">PvZ</span><div style="position:absolute;left:767.60px;top:80.60px;width:3.10px;height:228.00px;background:#eef1fc;border-radius:1.5px;"></div><div style="position:absolute;left:767.60px;top:80.60px;width:3.10px;height:43.00px;background:#dae2f7;border-radius:1.5px;"></div></div>
<div style="position:absolute;left:134.00px;top:0.00px;width:648.00px;height:37.00px;background:#f2f5ff;"></div><div style="position:absolute;left:164.00px;top:8.00px;width:151.80px;height:20.00px;background:#fff;border-radius:1.5px;"></div><span class="t" style="left:170.70px;top:14px;font-size:7.20px;font-weight:400;color:#3c416a;transform:scaleX(0.8979);transform-origin:0 50%;">All apps</span><div class="abs" style="left:306px;top:17.1px;width:0;height:0;border-left:1.7px solid transparent;border-right:1.7px solid transparent;border-top:2.3px solid #dc4a84;"></div><span class="t" style="left:553.60px;top:8px;font-size:5.00px;font-weight:400;color:#aab9e2;transform:scaleX(0.9944);transform-origin:0 50%;">AGE</span><span class="t" style="left:553.60px;top:17px;font-size:10.30px;font-weight:400;color:#666a86;transform:scaleX(0.9528);transform-origin:0 50%;">18-26</span><span class="t" style="left:618.90px;top:8px;font-size:5.00px;font-weight:400;color:#aab9e2;letter-spacing:0.230px;">MEN</span><span class="t" style="left:618.90px;top:17px;font-size:10.30px;font-weight:400;color:#666a86;transform:scaleX(0.8052);transform-origin:0 50%;">18%</span><span class="t" style="left:648.30px;top:8px;font-size:5.00px;font-weight:400;color:#aab9e2;letter-spacing:0.576px;">WOMAN</span><span class="t" style="left:648.30px;top:17px;font-size:10.30px;font-weight:400;color:#666a86;transform:scaleX(0.8731);transform-origin:0 50%;">82%</span><span class="t" style="left:708.70px;top:8px;font-size:5.00px;font-weight:400;color:#aab9e2;letter-spacing:0.421px;">INCOME BREAKDOWN</span><span class="t" style="left:708.70px;top:17px;font-size:10.30px;font-weight:400;color:#666a86;transform:scaleX(0.8731);transform-origin:0 50%;">82%</span><div style="position:absolute;left:599.00px;top:7.70px;width:1.00px;height:18.00px;background:#dde3f5;"></div><div style="position:absolute;left:690.00px;top:7.70px;width:1.00px;height:18.00px;background:#dde3f5;"></div>
<div style="position:absolute;left:0.00px;top:0.00px;width:134.00px;height:556.00px;background:#200f4b;"></div><div style="position:absolute;left:0.00px;top:117.50px;width:134.00px;height:21.20px;background:#32206a;"></div><div style="position:absolute;left:132.00px;top:117.50px;width:2.00px;height:21.20px;background:#2bd3e6;"></div><div style="position:absolute;left:0.00px;top:521.00px;width:134.00px;height:35.00px;background:#392272;"></div><svg class="abs" style="left:20.6px;top:11.2px" width="14.2" height="19.4" viewBox="0 0 15 20" fill="none" stroke="#6a39d2" stroke-width="1"><rect x="0.9" y="0.9" width="13.2" height="18.2" rx="1.8"/><path d="M3.4 3.8h8.200v10.400h-1.400l0.300 2 -2.300 -2H3.400z" stroke-width="0.900"/></svg><span class="t" style="left:40.50px;top:17px;font-size:10.30px;font-weight:700;color:#ffffff;letter-spacing:0.215px;">theorem<span style="color:#8247e8">reach</span></span><svg class="abs" style="left:9.90px;top:56.90px" width="8.00" height="8.00" viewBox="0 0 10 10" preserveAspectRatio="none" fill="#fff"><path d="M5 0.3 L7 2.2 V1 H8.5 V3.6 L10 5 H8.6 V9.8 H6 V6.4 H4 V9.8 H1.4 V5 H0z"/></svg><span class="t" style="left:22.00px;top:59px;font-size:7.10px;font-weight:700;color:#f0edf9;transform:scaleX(0.9577);transform-origin:0 50%;">HOME</span><svg class="abs" style="left:10.90px;top:79.60px" width="6.70" height="10.40" viewBox="0 0 10 10" preserveAspectRatio="none" fill="#fff"><path d="M1.2 0h7.6a1.2 1 0 0 1 1.2 1v8a1.2 1 0 0 1-1.2 1H1.2a1.2 1 0 0 1-1.2-1V1a1.2 1 0 0 1 1.2-1zM1.5 1.1v6.9h7V1.1z" fill-rule="evenodd"/></svg><span class="t" style="left:22.00px;top:82px;font-size:7.10px;font-weight:700;color:#f0edf9;transform:scaleX(0.8275);transform-origin:0 50%;">APPS</span><svg class="abs" style="left:9.90px;top:102.30px" width="8.00" height="8.80" viewBox="0 0 10 10" preserveAspectRatio="none" fill="#fff"><path d="M5 0 L6.6 1.3 L8.6 1.2 L8.9 3.1 L10 5 L8.9 6.9 L8.6 8.8 L6.6 8.7 L5 10 L3.4 8.7 L1.4 8.8 L1.1 6.9 L0 5 L1.1 3.1 L1.4 1.2 L3.4 1.3z M5 2.7 A2.3 2.3 0 1 0 5 7.3 A2.3 2.3 0 1 0 5 2.7z" fill-rule="evenodd"/></svg><span class="t" style="left:22.00px;top:104px;font-size:7.10px;font-weight:700;color:#f0edf9;transform:scaleX(0.9428);transform-origin:0 50%;">MY ACCOUNT</span><svg class="abs" style="left:10.90px;top:123.00px" width="6.30" height="8.10" viewBox="0 0 10 10" preserveAspectRatio="none" fill="#fff"><path d="M0 0H10V10H3.6V6.8H0z M0.3 7.7H2.7V10z"/></svg><span class="t" style="left:22.00px;top:125px;font-size:7.10px;font-weight:700;color:#f0edf9;transform:scaleX(0.8741);transform-origin:0 50%;">REPORTS</span><span class="t" style="left:11.70px;top:145px;font-size:9.60px;font-weight:700;color:#fff;transform:scaleX(0.9927);transform-origin:0 50%;">$</span><span class="t" style="left:22.00px;top:147px;font-size:7.10px;font-weight:700;color:#f0edf9;transform:scaleX(0.8840);transform-origin:0 50%;">PAYOUTS</span><svg class="abs" style="left:11.20px;top:167.00px" width="6.90" height="7.90" viewBox="0 0 10 10" preserveAspectRatio="none" fill="#fff"><path d="M3.9 0h2.2v3.6h2L5 6.6 1.9 3.600h2z M0 6.400h2.400l1.500 1.500h2.200l1.500-1.500H10V10H0z"/></svg><span class="t" style="left:22.00px;top:169px;font-size:7.10px;font-weight:700;color:#f0edf9;transform:scaleX(0.8724);transform-origin:0 50%;">EXPORTS</span><svg class="abs" style="left:11.20px;top:188.80px" width="6.40" height="8.00" viewBox="0 0 10 10" preserveAspectRatio="none" fill="#fff"><circle cx="5" cy="2.400" r="2.400"/><path d="M0 10 V8 Q0 5.600 3 5.600 H7 Q10 5.600 10 8 V10z"/></svg><span class="t" style="left:22.00px;top:190px;font-size:7.10px;font-weight:700;color:#f0edf9;transform:scaleX(0.8503);transform-origin:0 50%;">USERS</span><svg class="abs" style="left:10.50px;top:210.60px" width="8.00" height="8.00" viewBox="0 0 10 10" preserveAspectRatio="none" fill="#fff"><circle cx="5" cy="5" r="5"/><path d="M3.600 3.900 Q3.600 2.500 5 2.500 Q6.500 2.500 6.500 3.800 Q6.500 4.700 5.500 5.100 Q5 5.300 5 6 M5 7 V7.900" fill="none" stroke="#200f4b" stroke-width="1.100"/></svg><span class="t" style="left:22.00px;top:212px;font-size:7.10px;font-weight:700;color:#f0edf9;transform:scaleX(0.9053);transform-origin:0 50%;">TERMS OF SERVICE</span><svg class="abs" style="left:10.90px;top:231.00px" width="7.00" height="8.20" viewBox="0 0 10 10" preserveAspectRatio="none" fill="#fff"><path d="M0 0h10v10H0z"/><path d="M1.200 1.500h7.600v3.800H1.200z" fill="#b9b0d6"/><path d="M0 8.200h10" stroke="#b9b0d6" stroke-width="0.600"/></svg><span class="t" style="left:22.00px;top:232px;font-size:7.10px;font-weight:700;color:#f0edf9;transform:scaleX(0.9542);transform-origin:0 50%;">SDK DOCUMENTATION</span><span class="t" style="left:10.80px;top:534px;font-size:7.00px;font-weight:400;color:#e3199f;transform:scaleX(0.9689);transform-origin:0 50%;">guitarlover52@gmail.com</span><svg class="abs" style="left:119.2px;top:534.2px" width="8.6" height="8.6" viewBox="0 0 9 9" fill="none" stroke="#fff" stroke-width="1.3"><path d="M5 1h2.6v7H5"/><path d="M0.6 4.5h4.6M3.6 2.8l1.7 1.7-1.7 1.7"/></svg>
<div style="position:absolute;left:778.20px;top:37.00px;width:3.80px;height:519.00px;background:#e6ecff;"></div><div style="position:absolute;left:778.20px;top:37.00px;width:3.80px;height:47.50px;background:#a9c0ee;"></div></body></html>
